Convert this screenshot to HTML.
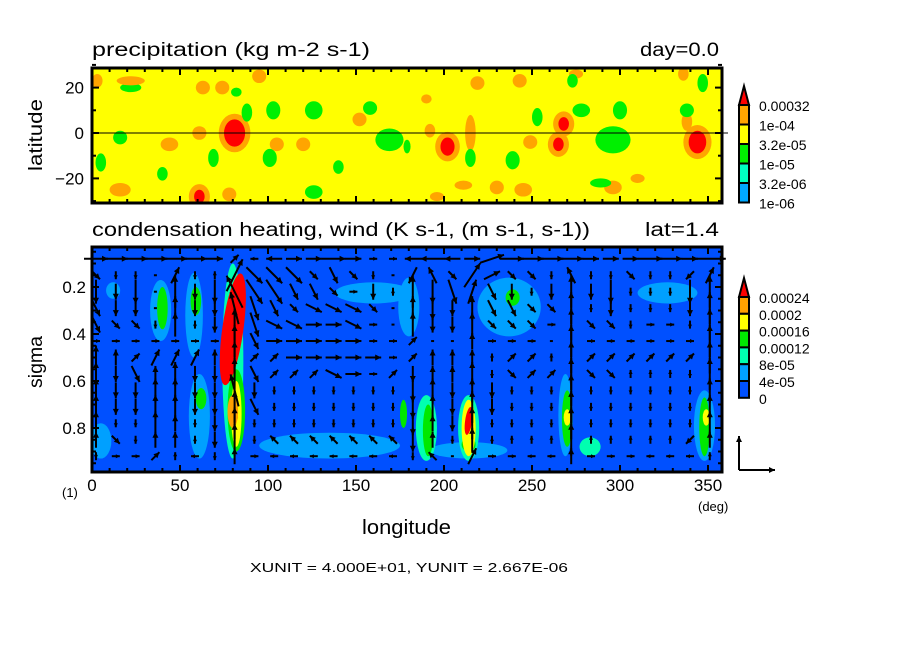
<!DOCTYPE html>
<html><head><meta charset="utf-8"><style>
html,body{margin:0;padding:0;background:#fff;}
svg{display:block;font-family:"Liberation Sans",sans-serif;}
</style></head><body>
<svg id="c" width="904" height="654" viewBox="0 0 904 654" xmlns="http://www.w3.org/2000/svg">
<text x="92" y="56" font-size="19" textLength="278" lengthAdjust="spacingAndGlyphs">precipitation (kg m-2 s-1)</text>
<text x="640" y="56" font-size="19" textLength="79" lengthAdjust="spacingAndGlyphs">day=0.0</text>
<text x="92" y="236" font-size="19" textLength="498" lengthAdjust="spacingAndGlyphs">condensation heating, wind (K s-1, (m s-1, s-1))</text>
<text x="645" y="236" font-size="19" textLength="74" lengthAdjust="spacingAndGlyphs">lat=1.4</text>
<text transform="translate(42,135) rotate(-90)" font-size="19" text-anchor="middle" textLength="72" lengthAdjust="spacingAndGlyphs">latitude</text>
<text transform="translate(42,362) rotate(-90)" font-size="19" text-anchor="middle" textLength="52" lengthAdjust="spacingAndGlyphs">sigma</text>
<text x="362" y="534" font-size="20" textLength="89" lengthAdjust="spacingAndGlyphs">longitude</text>
<text x="62" y="497" font-size="13">(1)</text>
<text x="698" y="511" font-size="13">(deg)</text>
<text x="250" y="572" font-size="13" textLength="318" lengthAdjust="spacingAndGlyphs">XUNIT = 4.000E+01, YUNIT = 2.667E-06</text>
<defs>
<clipPath id="cpTop"><rect x="92" y="68" width="630" height="135"/></clipPath>
<clipPath id="cpBot"><rect x="92" y="247" width="630" height="225"/></clipPath>
</defs>
<g id="top"></g>
<g id="bot"></g>
<g id="cb"></g>
</svg>
<script>
// precipitation blobs (lon, lat, level 0=aqua 1=green 2=orange 3=red, radii deg)
const pLon=[81,61,88,103,126,101,169,16,69,5,126,22,82,3,22,63,74,95,44,61,120,105,152,16,78,202,268,265,344,215,219,192,249,338,243,275,211,196,245,296,336,230,296,300,253,278,338,215,239,179,273,347,289,158,140,40,310,190];
const pLat=[0,-28,9,10,10,-11,-3,-2,-11,-13,-26,20,18,23,23,20,20,25,-5,0,-5,-5,6,-25,-27,-6,4,-5,-4,0,22,1,-4,5,23,26,-23,-28,-25,-24,26,-24,-3,10,7,10,10,-11,-12,-6,23,22,-22,11,-15,-18,-20,15];
const pLev=[3,3,1,1,1,1,1,1,1,1,1,1,1,2,2,2,2,2,2,2,2,2,2,2,2,3,3,3,3,2,2,2,2,2,2,2,2,2,2,2,2,2,1,1,1,1,1,1,1,1,1,1,1,1,1,1,2,2];
const pRx=[6,3,3,4,5,4,8,4,3,3,5,6,3,3,8,4,4,4,5,4,4,4,4,6,4,4,3,3,5,3,4,3,4,3,4,4,5,4,5,5,3,4,10,4,3,5,4,3,4,2,3,3,6,4,3,3,4,3];
const pRy=[6,3,4,4,4,4,5,3,4,4,3,2,2,3,2,3,3,3,3,3,3,3,3,3,3,4,3,3,5,8,3,3,3,4,3,2,2,2,3,3,3,3,6,4,4,3,3,4,4,3,3,4,2,3,3,3,2,2];
// heating blobs (lon, sigma top, sigma bottom, half-width deg, level 1..6)
const hLon=[5,12,39,40,58,59,61,62,80,80,82,82,135,160,180,177,190,191,214,214,214,237,239,269,270,270,283,327,348,348,349,214,214,80,81];
const hTop=[0.78,0.18,0.17,0.2,0.14,0.2,0.57,0.63,0.1,0.14,0.55,0.6,0.82,0.18,0.16,0.68,0.66,0.7,0.66,0.68,0.71,0.16,0.21,0.57,0.64,0.72,0.84,0.18,0.64,0.67,0.72,0.86,0.84,0.66,0.74];
const hBot=[0.93,0.25,0.43,0.38,0.5,0.32,0.93,0.72,0.93,0.62,0.9,0.88,0.93,0.27,0.41,0.8,0.94,0.92,0.94,0.92,0.83,0.41,0.28,0.92,0.88,0.79,0.92,0.27,0.94,0.92,0.79,0.93,0.9,0.8,0.77];
const hW=[6,4,6,3,5,3,6,3,6,6,5,3,40,22,6,2,6,3,6,4,2,18,4,4,3,2,6,17,6,3,2,22,4,3,2];
const hLev=[1,1,1,3,1,3,1,3,2,6,3,4,1,1,1,3,2,3,2,4,6,1,3,1,3,4,2,1,1,3,4,1,3,5,5];
// wind rows
const wSig=[0.08,0.15,0.22,0.29,0.36,0.43,0.50,0.57,0.64,0.71,0.78,0.85,0.92];
const wU=[
[3,3,3,3,3,3,2,1,-1,-2,2,2,3,2,1,1,-2,-3,-2,2,3,3,3,3,3,2,2,2,3,3,2,4],
[1,0,0,0,1,0,0,2,2,2,2,1,1,1,0,0,-1,-1,1,2,2,1,1,0,-1,0,0,1,0,0,-1,1],
[0,0,0,0,0,0,0,-2,2,2,1,1,1,1,0,0,0,0,1,1,1,0,0,0,0,0,0,0,0,0,0,0],
[1,0,0,0,0,0,0,-1,1,1,1,2,2,2,1,0,0,0,0,0,1,1,1,1,0,0,0,0,0,0,0,0],
[1,1,1,0,0,0,0,0,1,2,2,2,2,2,1,0,0,0,0,0,1,1,1,1,0,1,1,0,1,1,0,0],
[1,1,1,1,1,1,1,0,1,2,2,2,2,2,1,1,1,0,0,0,1,1,1,0,0,1,1,1,1,1,1,0],
[0,0,1,1,1,1,0,0,1,1,2,2,2,2,2,1,1,0,0,0,0,1,1,0,0,1,1,1,1,1,1,0],
[0,0,1,0,0,0,0,0,1,1,1,1,2,2,1,1,0,0,0,0,0,1,1,1,0,1,1,0,0,0,0,0],
[0,0,0,0,0,0,0,-1,0,0,0,0,0,0,0,0,0,0,0,0,0,0,0,0,0,0,0,0,0,0,0,0],
[0,0,0,0,0,0,0,0,1,0,0,0,0,0,0,0,0,0,0,0,0,0,0,0,0,0,0,0,0,0,0,0],
[0,0,0,0,0,0,0,0,0,0,0,0,0,0,0,0,0,0,0,0,0,0,0,0,0,0,0,0,0,0,0,0],
[0,1,0,0,0,0,0,0,0,-1,-1,-1,-1,-1,-1,-1,0,0,0,0,0,0,0,0,0,0,0,0,0,0,-1,0],
[0,1,1,1,0,-1,0,0,1,-1,-1,-1,-1,-1,-1,-1,0,-1,0,1,1,1,-1,-1,0,1,1,1,-1,-1,-1,0]];
const wV=[
[0,0,0,0,0,0,0,1,0,0,0,0,0,0,0,0,0,0,0,0,1,0,0,0,0,0,0,0,0,0,0,0],
[-1,-1,-1,0,2,-1,1,4,-2,-2,-2,-1,-2,-1,-1,0,-2,2,-1,3,1,-1,-1,-1,2,-1,-1,-1,-1,-1,-1,2],
[-3,-2,-3,0,4,-2,-3,4,-3,-3,-2,-2,-1,0,-2,-1,4,-3,-3,3,-2,-2,-1,-2,4,-2,-3,-1,-1,-1,-3,4],
[-2,-2,-2,0,3,-2,-2,4,-3,-2,-1,-1,-1,-1,-1,0,3,-3,-2,3,-2,-2,-1,-1,4,-1,-2,-1,-1,-1,-2,4],
[-2,-1,-1,-1,3,-1,-2,4,-3,-1,-1,0,0,-1,0,0,3,-2,-2,3,-1,-1,-1,0,4,-1,-1,-1,0,0,-1,4],
[0,0,0,0,0,0,0,4,-2,0,0,0,0,0,0,0,1,0,0,2,0,0,0,0,4,0,0,0,0,0,0,4],
[3,2,1,2,2,2,2,4,1,1,0,0,0,0,0,0,1,2,2,2,1,1,1,1,4,1,1,1,1,1,1,4],
[3,-2,-2,2,3,-2,-2,4,-2,1,1,1,-1,0,0,1,-2,2,2,3,-1,-1,1,1,4,-1,-1,1,1,1,-1,4],
[3,-2,-2,3,3,-2,-2,4,-2,-1,-1,-1,-1,-1,-1,-1,-3,3,-2,3,-2,-1,-1,-1,4,-1,-1,-1,-1,-1,-1,3],
[3,-2,-2,3,3,-2,-2,4,-2,-1,-1,-1,-1,-1,-1,-1,-3,3,-2,4,-2,-1,-1,-1,4,-1,-1,-1,-1,-1,-1,3],
[3,-1,-1,3,2,-1,-2,4,-1,-1,-1,-1,-1,-1,-1,-1,-3,2,-2,4,-1,-1,-1,-1,4,-1,-1,-1,-1,-1,-1,3],
[2,-1,-1,2,2,-1,-2,4,-1,1,1,1,1,1,1,1,-3,2,-1,3,-1,1,1,1,4,1,1,1,1,1,-1,2],
[1,0,0,1,1,0,-1,2,0,0,0,0,0,0,0,0,-1,1,0,2,0,0,0,0,2,0,0,0,0,0,0,1]];
const xTicks=[0,50,100,150,200,250,300,350];
const latTicks=[20,0,-20];
const sigTicks=[0.2,0.4,0.6,0.8];
const pColors=["#00ffc0","#00f000","#ffa500","#ff0000"];
const pLabels=["0.00032","1e-04","3.2e-05","1e-05","3.2e-06","1e-06"];
const hColors=["#0050ff","#00a0ff","#00ffb0","#00e800","#ffff00","#ffa000","#ff0000"];
const hLabels=["0.00024","0.0002","0.00016","0.00012","8e-05","4e-05","0"];

const NS="http://www.w3.org/2000/svg";
const X0=92,PX=1.76;
const xs=l=>X0+l*PX;
const yLat=la=>133-la*2.27;
const ySig=s=>287+(s-0.2)*235;
function mk(t,p,a){const e=document.createElementNS(NS,t);for(const k in a)e.setAttribute(k,a[k]);p.appendChild(e);return e;}

// ---- top panel
const topG=document.getElementById('top');
const tg=mk('g',topG,{'clip-path':'url(#cpTop)'});
const bgTop=mk('rect',tg,{x:92,y:68,width:630,height:135,fill:'#ffff00'});


for(let i=0;i<pLon.length;i++){
  const lv=pLev[i];
  if(lv===3){
    const h=mk('ellipse',tg,{cx:xs(pLon[i]),cy:yLat(pLat[i]),rx:(pRx[i]+3)*PX,ry:(pRy[i]+2.5)*2.27,fill:pColors[2]});
    
    
  }
  const e=mk('ellipse',tg,{cx:xs(pLon[i]),cy:yLat(pLat[i]),rx:pRx[i]*PX,ry:pRy[i]*2.27,fill:pColors[lv]});
  
  
}
const eq=mk('line',topG,{x1:92,x2:728,y1:yLat(0),y2:yLat(0),stroke:'#000','stroke-width':1});


mk('rect',topG,{x:92,y:68,width:630,height:135,fill:'none',stroke:'#000','stroke-width':3});
for(let l=0;l<=357;l+=10){const L=l%50===0?7:4;
  mk('line',topG,{x1:xs(l),x2:xs(l),y1:68,y2:68+L,stroke:'#000','stroke-width':2});
  mk('line',topG,{x1:xs(l),x2:xs(l),y1:203,y2:203-L,stroke:'#000','stroke-width':2});}
for(let la=-30;la<=30;la+=10){const L=la%20===0?7:4;
  mk('line',topG,{x1:92,x2:92+L,y1:yLat(la),y2:yLat(la),stroke:'#000','stroke-width':2});
  mk('line',topG,{x1:722,x2:722-L,y1:yLat(la),y2:yLat(la),stroke:'#000','stroke-width':2});}
latTicks.forEach(v=>{const t=mk('text',topG,{x:84,y:yLat(v)+6,'font-size':17,'text-anchor':'end'});t.textContent=(v<0?'\u2212':'')+Math.abs(v);
  
  });

// ---- bottom panel
const botG=document.getElementById('bot');
const bgp=mk('g',botG,{'clip-path':'url(#cpBot)'});
const bb=mk('rect',bgp,{x:92,y:247,width:630,height:225,fill:hColors[0]});


const order=hLev.map((v,i)=>i).sort((a,b)=>hLev[a]-hLev[b]);
order.forEach(i=>{const yt=ySig(hTop[i]),yb=ySig(hBot[i]);
  const e=mk('ellipse',bgp,{cx:xs(hLon[i]),cy:(yt+yb)/2,rx:hW[i]*PX,ry:(yb-yt)/2,fill:hColors[hLev[i]]});
  if(hLev[i]===6)e.setAttribute('transform',`rotate(8 ${xs(hLon[i])} ${(yt+yb)/2})`);
  
  });
// arrows
const ag=mk('g',botG,{});
function arrow(x,y,dx,dy,g){const len=Math.hypot(dx,dy);if(len<0.5){mk('rect',g,{x:x-1.5,y:y-1,width:3,height:2,fill:'#000'});return;}
  const x2=x+dx,y2=y+dy;mk('line',g,{x1:x,y1:y,x2:x2,y2:y2,stroke:'#000','stroke-width':2});
  const ux=dx/len,uy=dy/len,h=Math.min(6,len*0.5);
  mk('polygon',g,{points:`${x2},${y2} ${x2-ux*h-uy*h*0.5},${y2-uy*h+ux*h*0.5} ${x2-ux*h+uy*h*0.5},${y2-uy*h-ux*h*0.5}`,fill:'#000'});}
for(let r=0;r<wSig.length;r++)for(let c=0;c<32;c++){
  const lon=c*11.25,x=xs(lon)+4,y=ySig(wSig[r]);
  const dx=wU[r][c]*8,dy=-wV[r][c]*8;
  const g=mk('g',ag,{});
  
  
  arrow(x-dx/2,y-dy/2,dx,dy,g);
}
mk('rect',botG,{x:92,y:247,width:630,height:225,fill:'none',stroke:'#000','stroke-width':3});
for(let l=0;l<=357;l+=10){const L=l%50===0?7:4;
  mk('line',botG,{x1:xs(l),x2:xs(l),y1:247,y2:247+L,stroke:'#000','stroke-width':2});
  mk('line',botG,{x1:xs(l),x2:xs(l),y1:472,y2:472-L,stroke:'#000','stroke-width':2});}
for(let k=1;k<=19;k++){const s=k*0.05;const L=(k%4===0)?7:4;
  mk('line',botG,{x1:92,x2:92+L,y1:ySig(s),y2:ySig(s),stroke:'#000','stroke-width':2});
  mk('line',botG,{x1:722,x2:722-L,y1:ySig(s),y2:ySig(s),stroke:'#000','stroke-width':2});}
sigTicks.forEach(v=>{const t=mk('text',botG,{x:86,y:ySig(v)+6,'font-size':17,'text-anchor':'end'});t.textContent=v.toFixed(1);
  
  });
xTicks.forEach(v=>{const t=mk('text',botG,{x:xs(v),y:491,'font-size':17,'text-anchor':'middle'});t.textContent=v;
  
  });
// reference vector
const rv=mk('g',botG,{});


arrow(739,470,0,-34,rv);arrow(739,470,36,0,rv);

// ---- colorbars
const cbG=document.getElementById('cb');
function bar(x,y0,seg,cols,labels,name){
  const g=mk('g',cbG,{});
  
  
  const n=cols.length;
  mk('polygon',g,{points:`${x},${y0} ${x+5},${y0-19} ${x+10},${y0}`,fill:cols[0],stroke:'#000','stroke-width':2});
  for(let i=1;i<n;i++)mk('rect',g,{x:x,y:y0+(i-1)*seg,width:10,height:seg,fill:cols[i],stroke:'#000','stroke-width':2});
  labels.forEach((s,i)=>{const t=mk('text',g,{x:x+20,y:y0+i*seg+6,'font-size':14});t.textContent=s;});
}
bar(739,105,19.5,["#ff0000","#ffa500","#ffff00","#00f000","#00ffc0","#00a8ff"],pLabels,'precip-colorbar');
bar(739,297,16.8,[hColors[6],hColors[5],hColors[4],hColors[3],hColors[2],hColors[1],hColors[0]],hLabels,'heating-colorbar');
</script>
</body></html>
